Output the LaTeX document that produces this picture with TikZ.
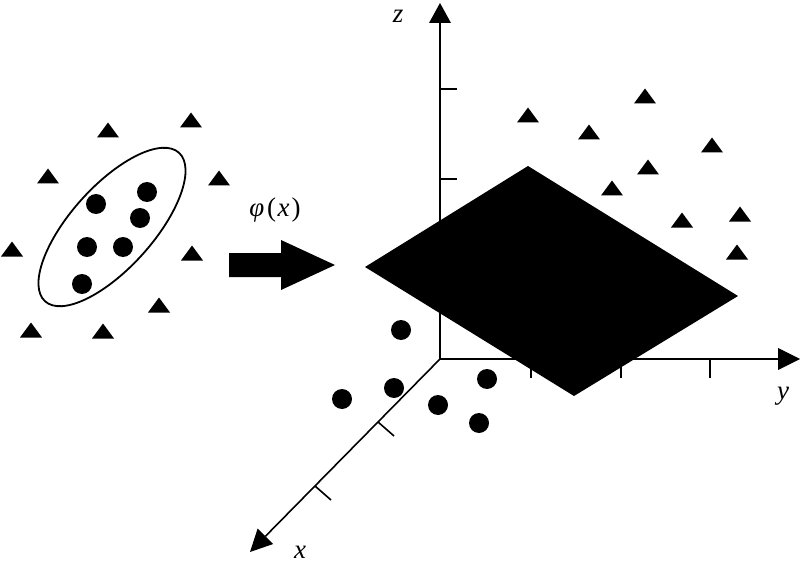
\documentclass[tikz,border=0pt]{standalone}
\usepackage{fontspec}
\setmainfont{Liberation Serif}
\begin{document}
\begin{tikzpicture}[x=1pt,y=-1pt,
  axisline/.style={line width=1.6pt},
  tickline/.style={line width=1.6pt},
  head/.style={fill=black},
  lbl/.style={font=\fontsize{27}{30}\selectfont, inner sep=0pt},
  tri/.pic={\fill (-11,7.5) -- (11,7.5) -- (0,-7.5) -- cycle;},
  dot/.style={fill=black}]
\useasboundingbox (0,0) rectangle (800,564);
% ---- left panel ----
\draw[line width=1.8pt, rotate around={48:(112,227)}] (112,227) ellipse [x radius=100pt, y radius=41pt];
\foreach \p in {(147,192),(96,204),(140,218),(87,247),(123,247),(82,284)}
  \fill[dot] \p circle[radius=10pt];
\foreach \p in {(108,130),(191,120),(48,176),(219,178),(12,249),(192,253),(159,305),(31,330),(103,331)}
  \pic at \p {tri};
% ---- mapping arrow ----
\fill (229,253) -- (281,253) -- (281,240) -- (335,265) -- (281,290) -- (281,277) -- (229,277) -- cycle;
\node[lbl] (phi) at (275,210) {\textit{φ}\hspace{3pt}(\hspace{1.5pt}\textit{x}\hspace{2pt})};
% ---- axes ----
\coordinate (O) at (440,359);
\coordinate (zb) at (440,22);
\coordinate (yb) at (779,359);
\coordinate (xb) at (265.4,536.3);
\draw[axisline] (O) -- (zb);
\draw[axisline] (O) -- (yb);
\draw[axisline] (O) -- (xb);
\fill[head] (429,23) -- (451,23) -- (440,3) -- cycle;
\fill[head] (778,348) -- (778,370) -- (800,359) -- cycle;
\fill[head] (273.2,544) -- (257.6,528.6) -- (250,552) -- cycle;
\draw[tickline] (440,89) -- (457,89);
\draw[tickline] (440,179) -- (457,179);
\draw[tickline] (531,359) -- (531,378);
\draw[tickline] (621,359) -- (621,378);
\draw[tickline] (710,359) -- (710,378);
\draw[tickline] (378,422) -- (394,436);
\draw[tickline] (315,486) -- (331,500);
\node[lbl] (zl) at (398,16) {\itshape z};
\node[lbl] (yl) at (783,396) {\itshape y};
\node[lbl] (xl) at (300,552) {\itshape x};
% ---- separating plane ----
\fill (528,166) -- (738,296) -- (574,396) -- (365,267) -- cycle;
% ---- mapped points ----
\foreach \p in {(401,330),(487,379),(394,388),(342,399),(438,405),(479,423)}
  \fill[dot] \p circle[radius=10pt];
\foreach \p in {(528,115),(645,96),(589,132),(712,145),(648,167),(612,188),(682,220),(740,214),(737,252)}
  \pic at \p {tri};
\end{tikzpicture}
\end{document}
